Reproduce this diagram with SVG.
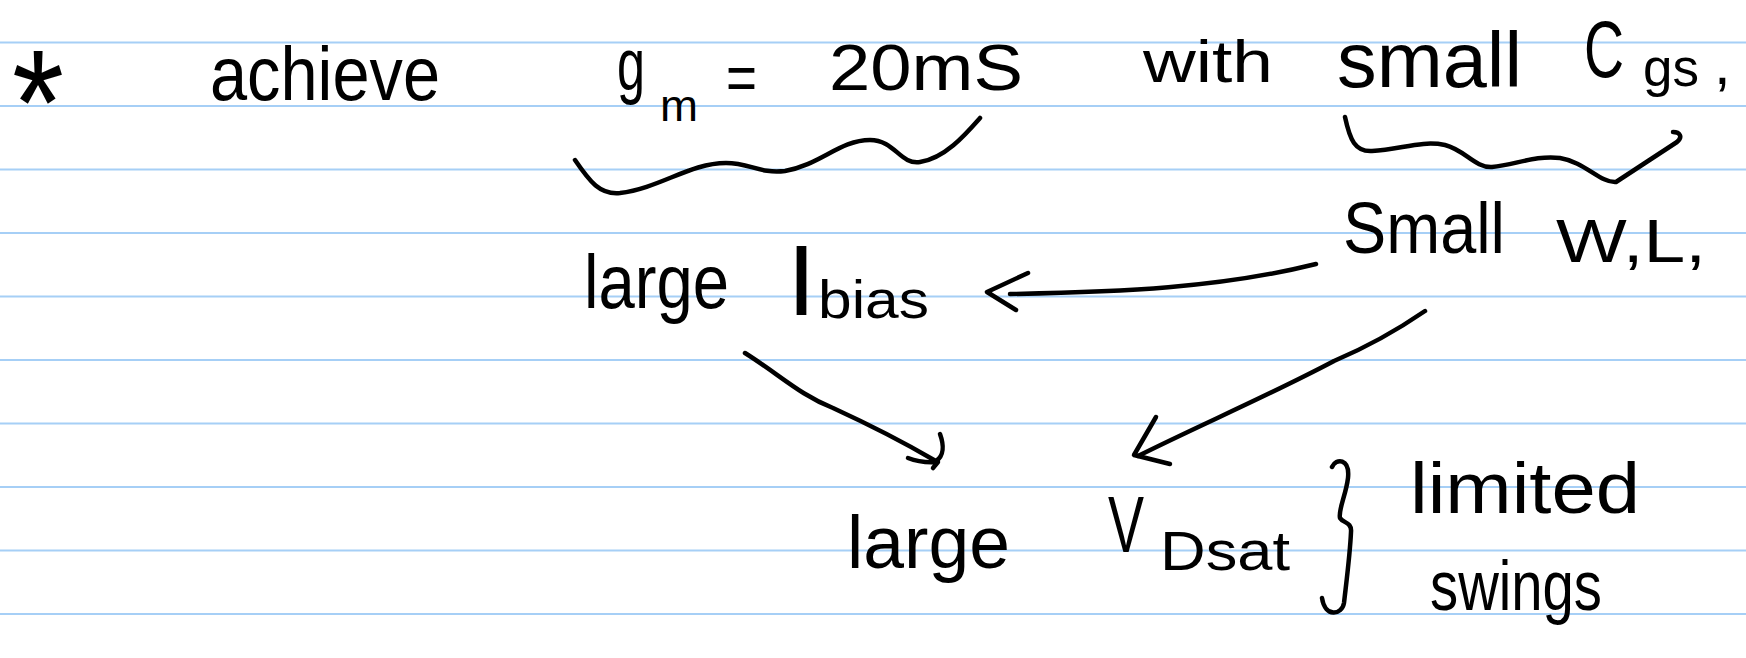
<svg xmlns="http://www.w3.org/2000/svg" width="1746" height="658" viewBox="0 0 1746 658">
  <defs>
    <style>
      .rule { stroke: #a6cff6; stroke-width: 2; }
      .ink { fill: #000; font-family: "Liberation Sans", Arial, sans-serif; }
      .pen { fill: none; stroke: #000; stroke-width: 4.5; stroke-linecap: round; stroke-linejoin: round; }
    </style>
  </defs>

  <rect width="1746" height="658" fill="#fff"/>

  <!-- ruled paper -->
  <g id="ruling">
    <line class="rule" x1="0" y1="42.5" x2="1746" y2="42.5"/>
    <line class="rule" x1="0" y1="106" x2="1746" y2="106"/>
    <line class="rule" x1="0" y1="169.5" x2="1746" y2="169.5"/>
    <line class="rule" x1="0" y1="233" x2="1746" y2="233"/>
    <line class="rule" x1="0" y1="296.5" x2="1746" y2="296.5"/>
    <line class="rule" x1="0" y1="360" x2="1746" y2="360"/>
    <line class="rule" x1="0" y1="423.5" x2="1746" y2="423.5"/>
    <line class="rule" x1="0" y1="487" x2="1746" y2="487"/>
    <line class="rule" x1="0" y1="550.5" x2="1746" y2="550.5"/>
    <line class="rule" x1="0" y1="614" x2="1746" y2="614"/>
  </g>

  <!-- first line: goal statement -->
  <g id="bullet">
    <text class="ink" x="12" y="155" font-size="150" textLength="52" lengthAdjust="spacingAndGlyphs">*</text>
  </g>
  <g id="achieve">
    <text class="ink" x="210" y="100" font-size="76" textLength="230" lengthAdjust="spacingAndGlyphs">achieve</text>
  </g>
  <g id="gm-target">
    <text class="ink" x="617" y="90" font-size="74" textLength="28" lengthAdjust="spacingAndGlyphs">g</text>
    <text class="ink" x="660" y="121" font-size="44" textLength="38" lengthAdjust="spacingAndGlyphs">m</text>
    <text class="ink" x="726" y="100" font-size="64" textLength="31" lengthAdjust="spacingAndGlyphs">=</text>
    <text class="ink" x="829" y="90" font-size="64" textLength="194" lengthAdjust="spacingAndGlyphs">20mS</text>
  </g>
  <g id="with">
    <text class="ink" x="1143" y="82" font-size="60" textLength="130" lengthAdjust="spacingAndGlyphs">with</text>
  </g>
  <g id="small-cgs">
    <text class="ink" x="1337" y="87" font-size="78" textLength="185" lengthAdjust="spacingAndGlyphs">small</text>
    <text class="ink" x="1584" y="77" font-size="80" textLength="40" lengthAdjust="spacingAndGlyphs">C</text>
    <text class="ink" x="1643" y="86" font-size="54" textLength="56" lengthAdjust="spacingAndGlyphs">gs</text>
    <text class="ink" x="1714" y="84" font-size="60">,</text>
  </g>

  <!-- second line -->
  <g id="large-ibias">
    <text class="ink" x="584" y="308" font-size="76" textLength="145" lengthAdjust="spacingAndGlyphs">large</text>
    <text class="ink" x="787" y="315" font-size="100" textLength="29" lengthAdjust="spacingAndGlyphs">I</text>
    <text class="ink" x="818" y="318" font-size="54" textLength="111" lengthAdjust="spacingAndGlyphs">bias</text>
  </g>
  <g id="small-wl">
    <text class="ink" x="1343" y="253" font-size="72" textLength="162" lengthAdjust="spacingAndGlyphs">Small</text>
    <text class="ink" x="1556" y="262" font-size="62" textLength="150" lengthAdjust="spacingAndGlyphs">W,L,</text>
  </g>

  <!-- bottom lines -->
  <g id="large-vdsat">
    <text class="ink" x="847" y="568" font-size="74" textLength="163" lengthAdjust="spacingAndGlyphs">large</text>
    <text class="ink" x="1108" y="552" font-size="80" textLength="36" lengthAdjust="spacingAndGlyphs">V</text>
    <text class="ink" x="1160" y="570" font-size="56" textLength="130" lengthAdjust="spacingAndGlyphs">Dsat</text>
  </g>
  <g id="limited-swings">
    <text class="ink" x="1410" y="513" font-size="72" textLength="230" lengthAdjust="spacingAndGlyphs">limited</text>
    <text class="ink" x="1430" y="610" font-size="70" textLength="172" lengthAdjust="spacingAndGlyphs">swings</text>
  </g>

  <!-- braces and arrows -->
  <g id="connectors">
    <!-- underbrace below gm = 20mS -->
    <path class="pen" d="M 575 160 C 590 182, 600 195, 620 193 C 660 188, 690 163, 726 163 C 750 163, 760 174, 785 171 C 820 165, 840 140, 870 140 C 895 140, 900 165, 920 162 C 945 158, 965 135, 980 118"/>
    <!-- underbrace below small Cgs -->
    <path class="pen" d="M 1345 117 C 1350 140, 1355 152, 1372 151 C 1400 150, 1420 140, 1445 145 C 1465 150, 1475 168, 1492 167 C 1515 165, 1535 155, 1560 158 C 1585 162, 1600 183, 1616 182 L 1677 142 C 1683 137, 1680 132, 1673 132"/>
    <!-- Small W,L -> large Ibias -->
    <path class="pen" d="M 1316 264 C 1220 288, 1120 292, 1010 294"/>
    <path class="pen" d="M 1028 273 L 987 292 L 1016 310"/>
    <!-- large Ibias -> large VDsat -->
    <path class="pen" d="M 745 353 C 780 375, 800 395, 833 408 C 870 425, 905 443, 934 460"/>
    <path class="pen" d="M 940 434 C 944 445, 944 456, 936 461 M 908 458 C 918 462, 926 463, 938 462 L 933 468"/>
    <!-- Small W,L -> large VDsat -->
    <path class="pen" d="M 1425 311 C 1390 335, 1360 350, 1334 361 C 1270 395, 1200 425, 1138 456"/>
    <path class="pen" d="M 1156 417 L 1134 455 L 1170 464"/>
    <!-- curly brace grouping VDsat with limited swings -->
    <path class="pen" d="M 1332 467 C 1336 458, 1350 458, 1348 478 C 1346 495, 1338 510, 1340 518 C 1343 523, 1352 522, 1351 532 C 1350 555, 1346 585, 1344 603 C 1342 615, 1325 618, 1322 598"/>
  </g>
</svg>
